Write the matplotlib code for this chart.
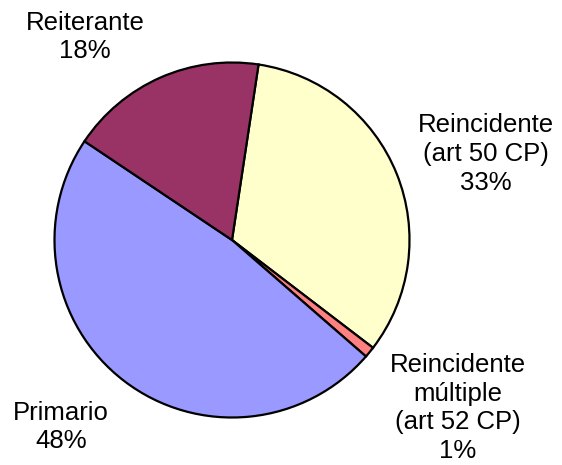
import matplotlib
matplotlib.use("Agg")
import matplotlib.pyplot as plt

# data, in drawing order (clockwise from the top)
categories = ["Reincidente\n(art 50 CP)", "Reincidente\nmúltiple\n(art 52 CP)", "Primario", "Reiterante"]
shares = [33, 1, 48, 18]
colors = ["#FFFFCC", "#FF8080", "#9999FF", "#993366"]

# label centres in image pixels (x from left, y from top)
label_px = [(486, 154), (458, 408), (61, 427), (85, 37)]

W, H = 562, 465
CX, CY, R = 232, 240, 177.5  # pie centre / radius in pixels

plt.rcParams["font.family"] = ["Liberation Sans", "DejaVu Sans"]
fig = plt.figure(figsize=(W / 100, H / 100), dpi=100)
ax = fig.add_axes([0, 0, 1, 1])
ax.pie(shares, colors=colors, startangle=81.4, counterclock=False,
       radius=1.0, center=(0, 0),
       wedgeprops=dict(edgecolor="black", linewidth=1.6))
ax.set_xlim(-CX / R, (W - CX) / R)
ax.set_ylim(-(H - CY) / R, CY / R)
ax.set_aspect("auto")
ax.axis("off")


def to_data(px, py):
    return (px - CX) / R, (CY - py) / R


for name, val, (px, py) in zip(categories, shares, label_px):
    x, y = to_data(px, py)
    ax.text(x, y, f"{name}\n{val}%", ha="center", va="center",
            fontsize=18.5, linespacing=1.25, color="black")

fig.savefig("out.png", dpi=100, facecolor="white")
